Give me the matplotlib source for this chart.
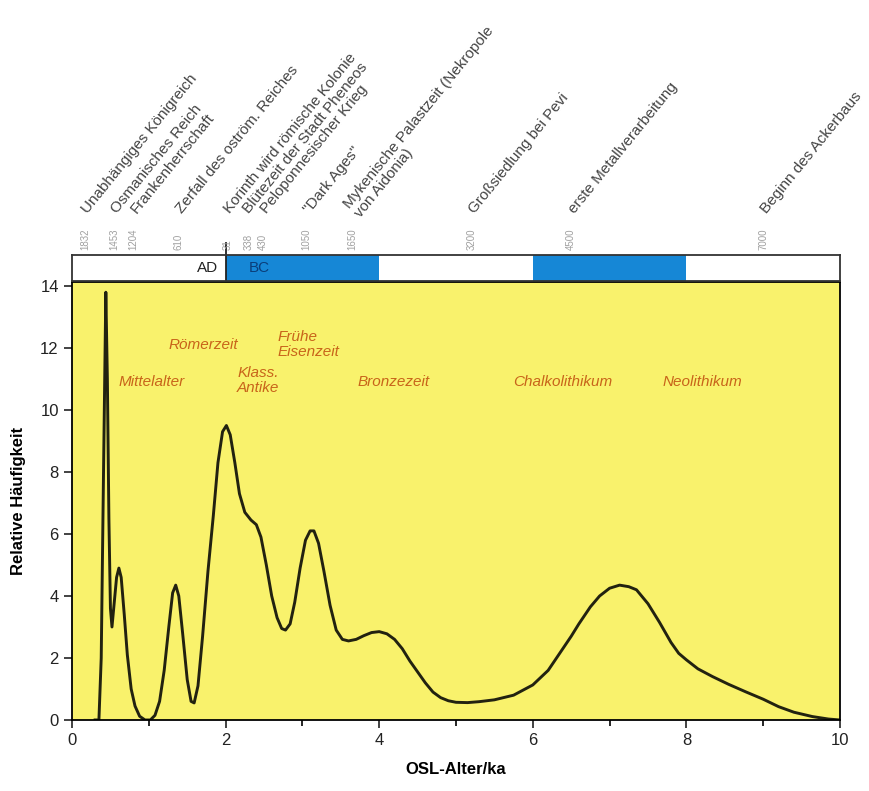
import matplotlib
matplotlib.use("Agg")
import matplotlib.pyplot as plt
import matplotlib.transforms as mtransforms
import numpy as np

plt.rcParams['font.family'] = ['Liberation Sans', 'DejaVu Sans']

# OSL age (ka) and relative frequency
osl_age = [0.30, 0.35, 0.38, 0.41, 0.44, 0.46, 0.48, 0.50, 0.52, 0.55, 0.58, 0.61,
           0.64, 0.68, 0.72, 0.77, 0.82, 0.88, 0.95, 1.02, 1.08, 1.14, 1.20, 1.26,
           1.31, 1.35, 1.39, 1.44, 1.50, 1.55, 1.59, 1.64, 1.70, 1.77, 1.84, 1.90,
           1.96, 2.01, 2.06, 2.12, 2.18, 2.25, 2.33, 2.40, 2.46, 2.53, 2.60, 2.67,
           2.73, 2.78, 2.84, 2.90, 2.97, 3.04, 3.10, 3.15, 3.21, 3.28, 3.36, 3.44,
           3.52, 3.60, 3.70, 3.80, 3.90, 4.00, 4.10, 4.20, 4.30, 4.40, 4.50, 4.60,
           4.70, 4.80, 4.90, 5.00, 5.15, 5.30, 5.50, 5.75, 6.00, 6.20, 6.35, 6.50,
           6.60, 6.75, 6.87, 7.00, 7.13, 7.25, 7.35, 7.50, 7.65, 7.80, 7.90, 8.00,
           8.15, 8.34, 8.55, 8.78, 9.00, 9.20, 9.40, 9.64, 9.85, 10.0]
frequency = [0.0, 0.0, 2.0, 8.0, 13.8, 11.0, 6.5, 3.6, 3.0, 3.8, 4.6, 4.9,
             4.6, 3.4, 2.1, 1.0, 0.45, 0.12, 0.0, 0.0, 0.15, 0.6, 1.6, 3.0,
             4.1, 4.35, 4.0, 2.8, 1.3, 0.6, 0.55, 1.1, 2.7, 4.8, 6.6, 8.3,
             9.3, 9.5, 9.2, 8.3, 7.3, 6.7, 6.45, 6.3, 5.9, 5.0, 4.0, 3.3,
             2.95, 2.9, 3.1, 3.8, 4.9, 5.8, 6.1, 6.1, 5.7, 4.8, 3.7, 2.9,
             2.6, 2.55, 2.6, 2.72, 2.82, 2.85, 2.78, 2.6, 2.3, 1.9, 1.55, 1.2,
             0.9, 0.72, 0.62, 0.57, 0.56, 0.59, 0.65, 0.8, 1.13, 1.6, 2.15, 2.7,
             3.1, 3.65, 4.0, 4.25, 4.35, 4.3, 4.2, 3.75, 3.15, 2.5, 2.15, 1.94,
             1.65, 1.4, 1.15, 0.9, 0.67, 0.43, 0.25, 0.11, 0.03, 0.0]

# historical events: year and era
event_years = [1832, 1453, 1204, 610, 31, 338, 430, 1050, 1650, 3200, 4500, 7000]
event_era = ['AD', 'AD', 'AD', 'AD', 'BC', 'BC', 'BC', 'BC', 'BC', 'BC', 'BC', 'BC']
event_names = ['Unabhängiges Königreich', 'Osmanisches Reich', 'Frankenherrschaft',
               'Zerfall des oström. Reiches', 'Korinth wird römische Kolonie',
               'Blütezeit der Stadt Pheneos', 'Peloponnesischer Krieg',
               '"Dark Ages"', 'Mykenische Palastzeit (Nekropole\nvon Aidonia)',
               'Großsiedlung bei Pevi', 'erste Metallverarbeitung',
               'Beginn des Ackerbaus']
# small sideways shifts so crowded texts do not collide
label_nudge = [0, 0, 0, 0, -0.02, -0.07, 0.06, 0, 0, 0, 0, 0]
number_nudge = [0, 0, 0, 0, 0, -0.04, 0.05, 0, 0, 0, 0, 0]

# cultural periods
period_names = ['Mittelalter', 'Römerzeit', 'Klass.\nAntike', 'Frühe\nEisenzeit',
                'Bronzezeit', 'Chalkolithikum', 'Neolithikum']
period_x = [0.6, 1.25, 2.15, 2.68, 3.72, 5.74, 7.69]
period_y = [10.9, 12.1, 10.95, 12.1, 10.9, 10.9, 10.9]

# AD/BC strip (blue blocks, ka)
blue_blocks = [(2, 4), (6, 8)]

# age in ka relative to 2000 AD
event_ka = [(2000 - y) / 1000 if e == 'AD' else (2000 + y) / 1000
            for y, e in zip(event_years, event_era)]

fig = plt.figure(figsize=(8.69, 7.91), dpi=100)
ax = fig.add_axes([0.0829, 0.0898, 0.8837, 0.5537])
bar = fig.add_axes([0.0829, 0.6448, 0.8837, 0.0328])

ax.set_facecolor('#f9f26c')
ax.plot(osl_age, frequency, color='#222210', lw=2.1)
ax.set_xlim(0, 10)
ax.set_ylim(0, 14.13)
ax.set_xticks(range(0, 11, 2))
ax.set_xticks(range(1, 10, 2), minor=True)
ax.set_yticks(range(0, 15, 2))
ax.tick_params(axis='both', direction='out', length=6, width=1.2, labelsize=12,
               colors='#222222')
ax.tick_params(axis='x', which='minor', direction='out', length=4, width=1.2)
for s in ax.spines.values():
    s.set_linewidth(1.3)
ax.set_xlabel('OSL-Alter/ka', fontsize=12, fontweight='bold', labelpad=10)
ax.set_ylabel('Relative Häufigkeit', fontsize=12, fontweight='bold', labelpad=10)

for name, x, y in zip(period_names, period_x, period_y):
    ax.text(x, y, name, color='#c8641a', fontsize=11, style='italic',
            ha='left', va='center', linespacing=1.1)

# strip with AD / BC
bar.set_xlim(0, 10)
bar.set_ylim(0, 1)
bar.set_xticks([])
bar.set_yticks([])
for a, b in blue_blocks:
    bar.axvspan(a, b, color='#1687d6', lw=0)
for s in bar.spines.values():
    s.set_linewidth(1.3)
    s.set_color('#333333')
bar.text(1.9, 0.5, 'AD', ha='right', va='center', fontsize=11, color='#222222')
bar.text(2.3, 0.5, 'BC', ha='left', va='center', fontsize=11, color='#0a3e7a')
bar.plot([2, 2], [0, 1.45], color='#222222', lw=1.3, clip_on=False)

# event labels above the strip
trans = mtransforms.blended_transform_factory(ax.transData, fig.transFigure)
for name, x, yr, dx, dn in zip(event_names, event_ka, event_years,
                               label_nudge, number_nudge):
    fig.text(x + dn, 0.684, str(yr), transform=trans, rotation=90, fontsize=7,
             color='#a0a0a0', ha='center', va='bottom')
    fig.text(x + dx, 0.733, name, transform=trans, rotation=51,
             rotation_mode='anchor', fontsize=11, color='#444444',
             ha='left', va='center', linespacing=1.0)

fig.savefig('out.png', dpi=100, facecolor='white')
